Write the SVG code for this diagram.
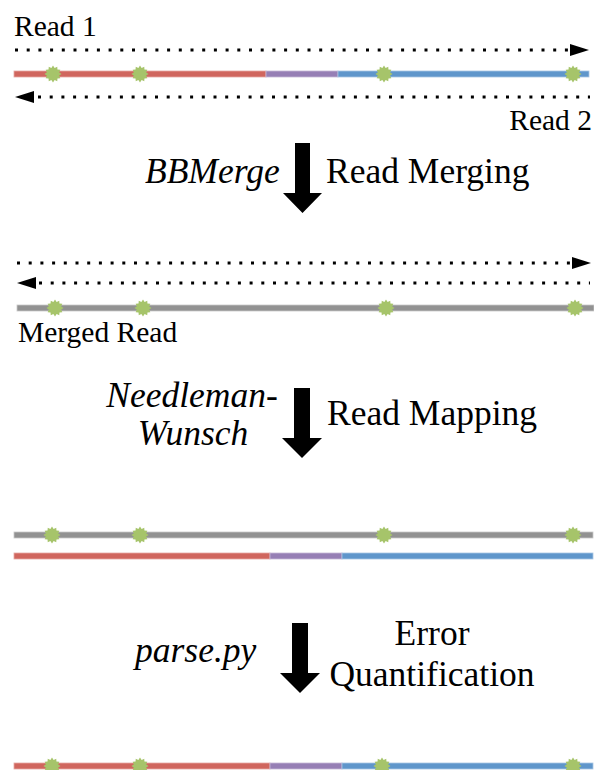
<svg xmlns="http://www.w3.org/2000/svg" xmlns:xlink="http://www.w3.org/1999/xlink" width="594" height="770" viewBox="0 0 594 770">
<style>
text{font-family:"Liberation Serif","Times New Roman",serif;fill:#000}
.sm{font-size:29.5px}
.lg{font-size:35.5px}
.it{font-style:italic}
.dot{stroke:#000;stroke-width:3;stroke-dasharray:3 8.7;fill:none}
.head{fill:#000}
.red{fill:#D0665E;stroke:#E6A9A4;stroke-width:0.8}
.pur{fill:#967FB5;stroke:#C5B8D8;stroke-width:0.8}
.blu{fill:#5F96CB;stroke:#A9C6E3;stroke-width:0.8}
.gry{fill:#929292;stroke:#C8C8C8;stroke-width:0.8}
.big{fill:#000}
</style>
<defs>
<polygon id="star" fill="#A6C46A" points="8.5,0 6.09,1.63 7.36,4.25 4.45,4.45 4.25,7.36 1.63,6.09 0,8.5 -1.63,6.09 -4.25,7.36 -4.45,4.45 -7.36,4.25 -6.09,1.63 -8.5,0 -6.09,-1.63 -7.36,-4.25 -4.45,-4.45 -4.25,-7.36 -1.63,-6.09 0,-8.5 1.63,-6.09 4.25,-7.36 4.45,-4.45 7.36,-4.25 6.09,-1.63"/>
</defs>
<rect width="594" height="770" fill="#fff"/>

<g id="reads">
<text class="sm" x="14" y="36">Read 1</text>
<line class="dot" x1="15" y1="50" x2="570" y2="50"/>
<polygon class="head" points="570,44 589,50 570,56"/>
<rect class="red" x="14" y="71" width="252" height="6"/>
<rect class="pur" x="266" y="71" width="72" height="6"/>
<rect class="blu" x="338" y="71" width="251" height="6"/>
<use xlink:href="#star" href="#star" x="53" y="74"/>
<use xlink:href="#star" href="#star" x="140" y="74"/>
<use xlink:href="#star" href="#star" x="384" y="74"/>
<use xlink:href="#star" href="#star" x="573" y="74"/>
<polygon class="head" points="34,91 15,97 34,103"/>
<line class="dot" x1="38" y1="97" x2="590" y2="97"/>
<text class="sm" x="592" y="130" text-anchor="end">Read 2</text>
</g>

<g id="merged">
<line class="dot" x1="17" y1="263" x2="572" y2="263"/>
<polygon class="head" points="572,257 591,263 572,269"/>
<polygon class="head" points="36,277 17,283 36,289"/>
<line class="dot" x1="39" y1="283" x2="590" y2="283"/>
<rect class="gry" x="17" y="305" width="577" height="6"/>
<use xlink:href="#star" href="#star" x="55" y="308"/>
<use xlink:href="#star" href="#star" x="143" y="308"/>
<use xlink:href="#star" href="#star" x="386" y="308"/>
<use xlink:href="#star" href="#star" x="575" y="308"/>
<text class="sm" x="18" y="342">Merged Read</text>
</g>

<g id="mapped">
<rect class="gry" x="14" y="532" width="579" height="6"/>
<use xlink:href="#star" href="#star" x="52" y="535"/>
<use xlink:href="#star" href="#star" x="140" y="535"/>
<use xlink:href="#star" href="#star" x="384" y="535"/>
<use xlink:href="#star" href="#star" x="573" y="535"/>
<rect class="red" x="14" y="553" width="256" height="6"/>
<rect class="pur" x="270" y="553" width="72" height="6"/>
<rect class="blu" x="342" y="553" width="251" height="6"/>
</g>

<g id="quantified">
<rect class="red" x="14" y="763" width="256" height="6"/>
<rect class="pur" x="270" y="763" width="72" height="6"/>
<rect class="blu" x="342" y="763" width="251" height="6"/>
<use xlink:href="#star" href="#star" x="52" y="766"/>
<use xlink:href="#star" href="#star" x="140" y="766"/>
<use xlink:href="#star" href="#star" x="382" y="766"/>
<use xlink:href="#star" href="#star" x="573" y="766"/>
</g>

<g id="step1">
<text class="lg it" x="145" y="183">BBMerge</text>
<text class="lg" x="326" y="183">Read Merging</text>
</g>
<g id="step2">
<text class="lg it" x="192" y="407" text-anchor="middle">Needleman-</text>
<text class="lg it" x="193" y="445" text-anchor="middle">Wunsch</text>
<text class="lg" x="327" y="425">Read Mapping</text>
</g>
<g id="step3">
<text class="lg it" x="135" y="662">parse.py</text>
<text class="lg" x="432" y="645" text-anchor="middle">Error</text>
<text class="lg" x="432" y="686" text-anchor="middle">Quantification</text>
</g>

<g id="connectors">
<polygon class="big" points="295,143 310,143 310,193 322,193 302.5,213 283,193 295,193"/>
<polygon class="big" points="294,388 310,388 310,438 322,438 302,458 282,438 294,438"/>
<polygon class="big" points="292,623 308,623 308,673 320,673 300,693 280,673 292,673"/>
</g>
</svg>
